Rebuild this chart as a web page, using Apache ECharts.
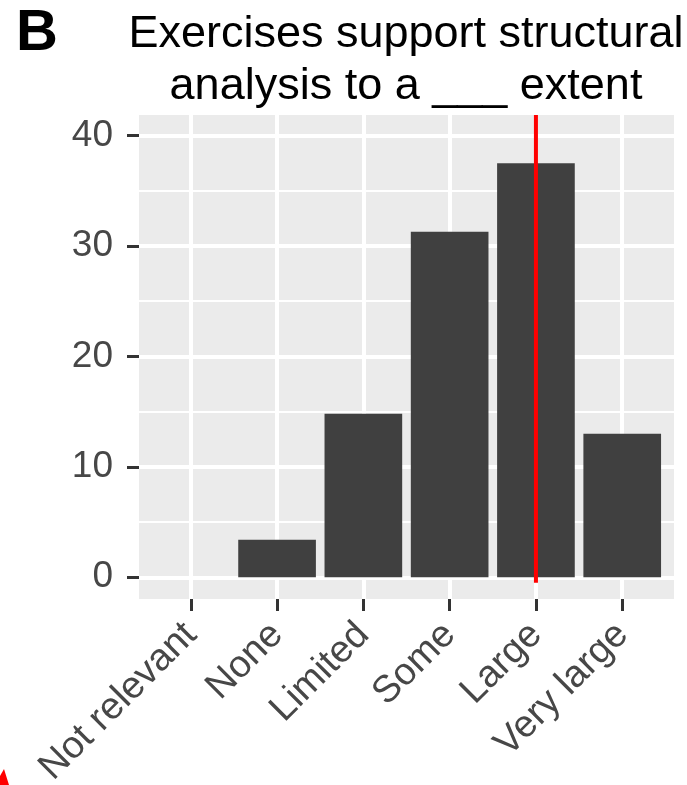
<!DOCTYPE html>
<html><head><meta charset="utf-8">
<script src="https://cdn.jsdelivr.net/npm/echarts@6/dist/echarts.min.js"></script>
<style>html,body{margin:0;padding:0;background:#fff}#c{width:687px;height:785px}</style>
</head><body><div id="c"></div>
<script>
const categories = ['Not relevant', 'None', 'Limited', 'Some', 'Large', 'Very large'];
const percentages = [0, 3.4, 14.8, 31.3, 37.5, 13.0];
const yTicks = [0, 10, 20, 30, 40];
const yMinorTicks = [5, 15, 25, 35];
const yRange = [-1.97, 41.87];
const xRange = [-0.6, 5.6];
const markerCategory = 'Large';
const markerSpan = [-0.5, 41.87];
const titleText = 'Exercises support structural\nanalysis to a ___ extent';
const panelLabel = 'B';

const xPositions = categories.map((c, i) => i);
const barData = categories.map((c, i) => [i, percentages[i]]);
const mIdx = categories.indexOf(markerCategory);
const markerData = markerSpan.map(v => [mIdx, v]);

const FONT = '"Liberation Sans", Arial, Helvetica, sans-serif';
const chart = echarts.init(document.getElementById('c'), null, {renderer: 'canvas'});
chart.setOption({
  animation: false,
  backgroundColor: '#ffffff',
  textStyle: {fontFamily: FONT},
  grid: {
    left: 139, right: 13, top: 115, bottom: 186,
    show: true, backgroundColor: '#EBEBEB', borderWidth: 0,
    containLabel: false, outerBoundsMode: 'none'
  },
  xAxis: {
    type: 'value', min: xRange[0], max: xRange[1], position: 'bottom',
    axisLine: {show: false, onZero: false},
    axisTick: {show: true, customValues: xPositions, length: 12, lineStyle: {color: '#333333', width: 3}},
    axisLabel: {
      show: true, customValues: xPositions, rotate: 45, margin: 30,
      formatter: v => categories[Math.round(v)],
      fontSize: 38, color: '#474747', fontFamily: FONT,
      align: 'right', verticalAlign: 'middle', padding: [8, 0, 0, 0]
    },
    splitLine: {show: true, lineStyle: {color: '#FFFFFF', width: 4}},
    minorSplitLine: {show: false}
  },
  yAxis: [{
    type: 'value', min: yRange[0], max: yRange[1], position: 'left',
    axisLine: {show: false, onZero: false},
    axisTick: {show: true, customValues: yTicks, length: 12, lineStyle: {color: '#333333', width: 3}},
    axisLabel: {show: true, customValues: yTicks, margin: 26, fontSize: 37, color: '#474747', fontFamily: FONT},
    splitLine: {show: true, lineStyle: {color: '#FFFFFF', width: 4}}
  }, {
    type: 'value', min: yRange[0], max: yRange[1], position: 'right',
    axisLine: {show: false, onZero: false},
    axisTick: {show: false, customValues: yMinorTicks},
    axisLabel: {show: false},
    splitLine: {show: true, lineStyle: {color: '#FFFFFF', width: 2}}
  }],
  series: [{
    type: 'bar', data: barData, barWidth: '90%', yAxisIndex: 0,
    itemStyle: {color: '#404040'}, z: 2, silent: true
  }, {
    type: 'line', data: markerData, yAxisIndex: 0, symbol: 'none',
    lineStyle: {color: '#FF0000', width: 4}, z: 5, silent: true
  }],
  graphic: [{
    type: 'text', x: 16, y: 5,
    style: {text: panelLabel, font: 'bold 58px ' + FONT, fill: '#000000', textVerticalAlign: 'top'}
  }, {
    type: 'text', x: 406, y: 9,
    style: {text: titleText, font: '45px ' + FONT, fill: '#000000', textAlign: 'center', textVerticalAlign: 'top', lineHeight: 52}
  }, {
    type: 'polygon', shape: {points: [[0, 785], [0, 776], [4, 769], [9, 785]]},
    style: {fill: '#FF0000'}
  }]
});
</script></body></html>
